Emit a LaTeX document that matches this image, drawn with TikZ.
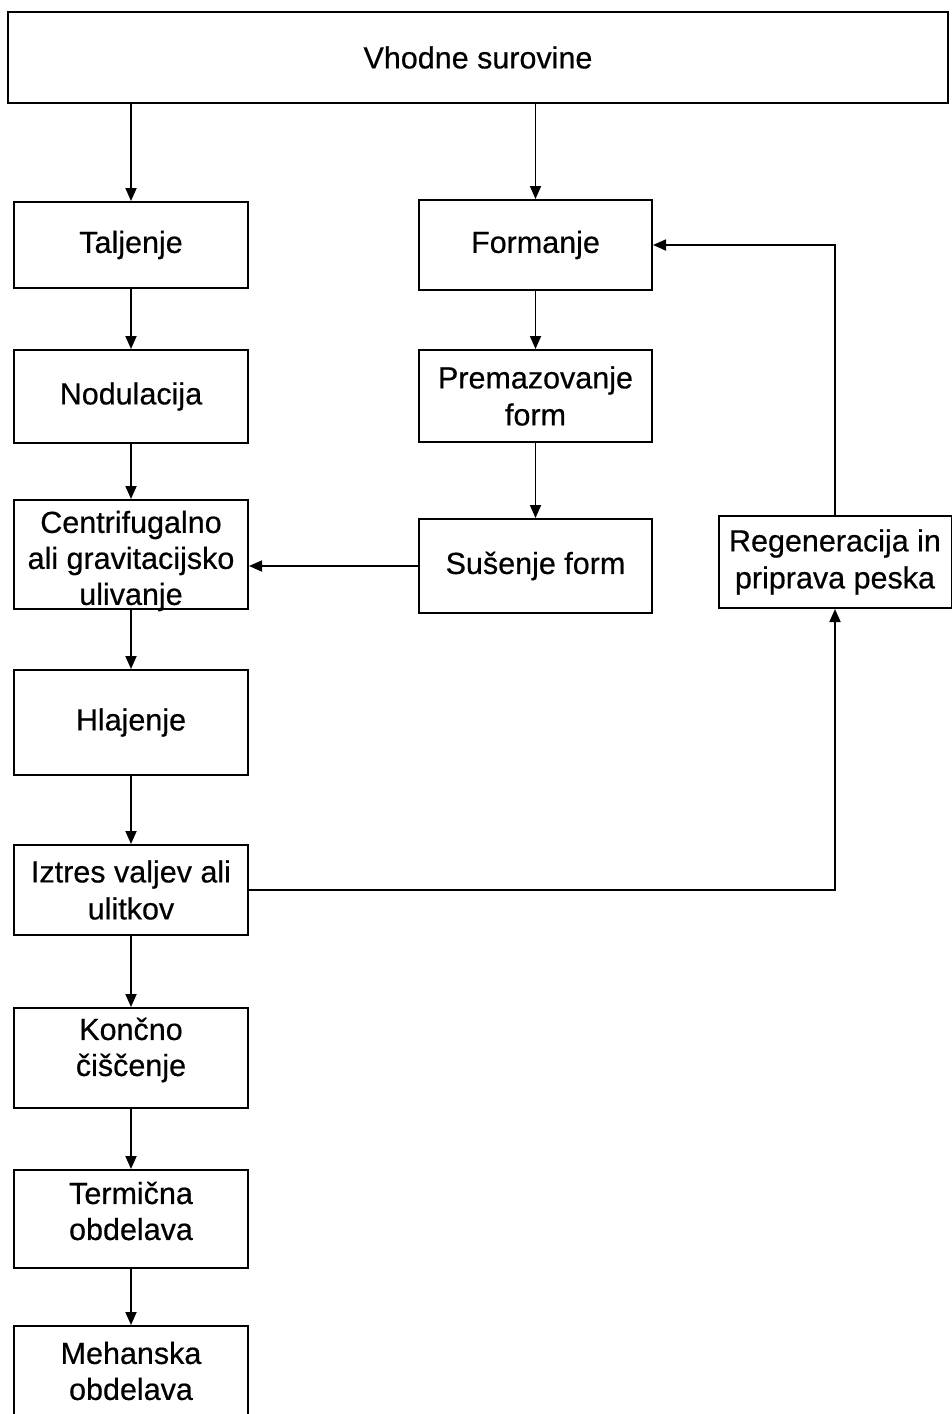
\documentclass[tikz,border=0pt]{standalone}
\usepackage{fontspec}
\setmainfont{Liberation Sans}
\newfontfamily\boxfont[FakeBold=0.5]{Liberation Sans}
\usetikzlibrary{arrows.meta}
\begin{document}
\begin{tikzpicture}[x=1pt,y=-1pt,
  box/.style={draw,line width=2pt,align=center,inner sep=0pt,
    font=\boxfont\fontsize{30.5}{37}\selectfont},
  txt/.style={align=center,inner sep=0pt,font=\boxfont\fontsize{30.5}{36}\selectfont},
  arr/.style={line width=1.8pt,-{Triangle[length=13pt,width=11pt]}}]
\useasboundingbox (0,0) rectangle (951,1414);
\fill[white] (0,0) rectangle (951,1414);
\node[box,minimum width=940pt,minimum height=91pt] (top) at (478,57.5) {Vhodne surovine};
% left column
\node[box,minimum width=234pt,minimum height=86pt] (talj) at (131,245) {Taljenje};
\node[box,minimum width=234pt,minimum height=93pt] (nod) at (131,396.5) {Nodulacija};
\node[box,minimum width=234pt,minimum height=109pt] (cen) at (131,554.5) {};
\node[txt] (centxt) at (131,561) {Centrifugalno\\ali gravitacijsko\\ulivanje};
\node[box,minimum width=234pt,minimum height=105pt] (hla) at (131,722.5) {Hlajenje};
\node[box,minimum width=234pt,minimum height=90pt] (izt) at (131,890) {Iztres valjev ali\\ulitkov};
\node[box,minimum width=234pt,minimum height=100pt] (kon) at (131,1058) {};
\node[txt] (kontxt) at (131,1050) {Končno\\čiščenje};
\node[box,minimum width=234pt,minimum height=98pt] (ter) at (131,1219) {};
\node[txt] (tertxt) at (131,1211) {Termična\\obdelava};
\node[box,minimum width=234pt,minimum height=100pt,anchor=north] (meh) at (131,1325) {};
\node[txt] (mehtxt) at (131,1371) {Mehanska\\obdelava};
% middle column
\node[box,minimum width=233pt,minimum height=90pt] (form) at (535.5,245) {Formanje};
\node[box,minimum width=233pt,minimum height=92pt] (prem) at (535.5,396) {Premazovanje\\form};
\node[box,minimum width=233pt,minimum height=94pt] (sus) at (535.5,566) {Sušenje form};
% right
\node[box,minimum width=233pt,minimum height=92pt] (reg) at (835,562) {Regeneracija in\\priprava peska};
% connectors
\draw[arr] (top.south -| talj) -- (talj.north);
\draw[arr] (top.south -| form) -- (form.north);
\draw[arr] (talj) -- (nod);
\draw[arr] (nod) -- (cen);
\draw[arr] (cen) -- (hla);
\draw[arr] (hla) -- (izt);
\draw[arr] (izt) -- (kon);
\draw[arr] (kon) -- (ter);
\draw[arr] (ter) -- (meh);
\draw[arr] (form) -- (prem);
\draw[arr] (prem) -- (sus);
\draw[arr] (sus.west) -- (sus.west -| cen.east);
\draw[arr] (izt.east) -| (reg.south);
\draw[arr] (reg.north) |- (form.east);
\end{tikzpicture}
\end{document}
